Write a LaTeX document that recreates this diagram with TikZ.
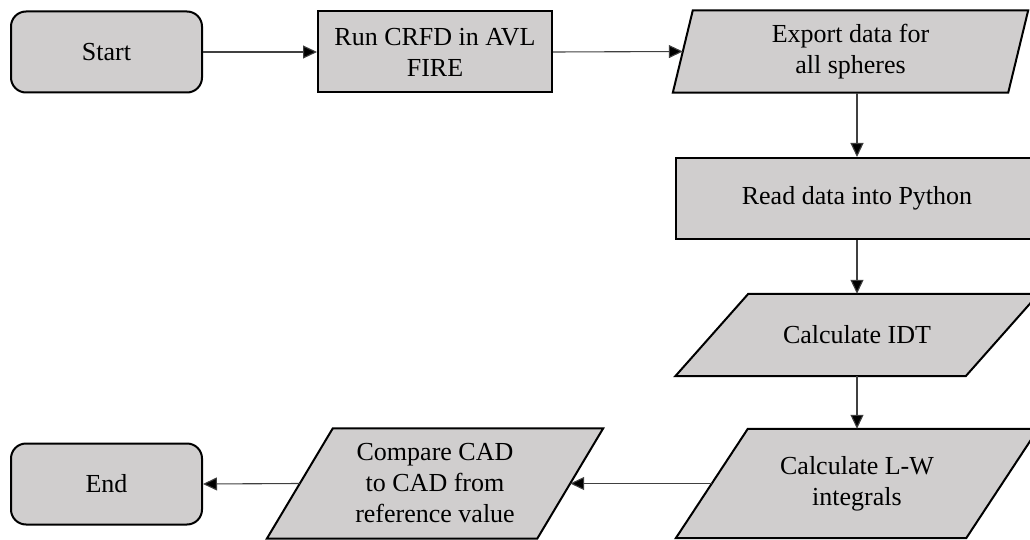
\documentclass[tikz,border=0pt]{standalone}
\usepackage{fontspec}
\setmainfont{Liberation Serif}
\usetikzlibrary{arrows.meta,backgrounds,calc}
\definecolor{boxfill}{HTML}{D0CECE}
\definecolor{arrowcol}{HTML}{404040}
\begin{document}
\begin{tikzpicture}[x=1pt,y=-1pt,
  txt/.style={font=\fontsize{26}{31}\selectfont, align=center, inner sep=0pt, text=black},
  boxst/.style={txt, draw=black, line width=2pt, fill=boxfill},
  roundbox/.style={boxst, rounded corners=15pt},
  parashape/.style={draw=black, line width=2pt, fill=boxfill, line join=miter},
  arr/.style={draw=arrowcol, line width=1.1pt, -{Triangle[length=14pt,width=13pt,fill=black]}},
]
\useasboundingbox (0,0) rectangle (1030,540);

% nodes
\node[roundbox, minimum width=191pt, minimum height=81pt] (start) at (106.5,52) {Start};
\node[boxst, minimum width=234pt, minimum height=81pt] (run) at (435,52) {Run CRFD in AVL\\FIRE};
\node[txt, minimum width=355pt, minimum height=82pt] (exp) at (850.5,51.5) {Export data for\\all spheres};
\node[boxst, minimum width=362pt, minimum height=81pt] (read) at (857,198.5) {Read data into Python};
\node[txt, minimum width=363pt, minimum height=82pt] (idt) at (857,335) {Calculate IDT};
\node[txt, minimum width=362pt, minimum height=109pt] (lw) at (857,483.5) {Calculate L-W\\integrals};
\node[txt, minimum width=336pt, minimum height=110pt] (cmp) at (435,483.5) {Compare CAD\\to CAD from\\reference value};
\node[roundbox, minimum width=191pt, minimum height=81pt] (end) at (106.5,484) {End};

% parallelogram outlines
\begin{scope}[on background layer]
  \draw[parashape] (exp.south west) -- ([xshift=-20pt]exp.south east) -- (exp.north east) -- ([xshift=20pt]exp.north west) -- cycle;
  \draw[parashape] (idt.south west) -- ([xshift=-73pt]idt.south east) -- (idt.north east) -- ([xshift=73pt]idt.north west) -- cycle;
  \draw[parashape] (lw.south west) -- ([xshift=-72pt]lw.south east) -- (lw.north east) -- ([xshift=72pt]lw.north west) -- cycle;
  \draw[parashape] (cmp.south west) -- ([xshift=-66pt]cmp.south east) -- (cmp.north east) -- ([xshift=66pt]cmp.north west) -- cycle;
\end{scope}

% connectors
\draw[arr] (start.east) -- (run.west);
\draw[arr] (run.east) -- ([xshift=10pt]exp.west);
\draw[arr] (exp.south -| read.north) -- (read.north);
\draw[arr] (read.south) -- (idt.north);
\draw[arr] (idt.south) -- (lw.north);
\draw[arr] ([xshift=36pt]lw.west) -- ([xshift=-33pt]cmp.east);
\draw[arr] ([xshift=33pt]cmp.west) -- (end.east);
\end{tikzpicture}
\end{document}
